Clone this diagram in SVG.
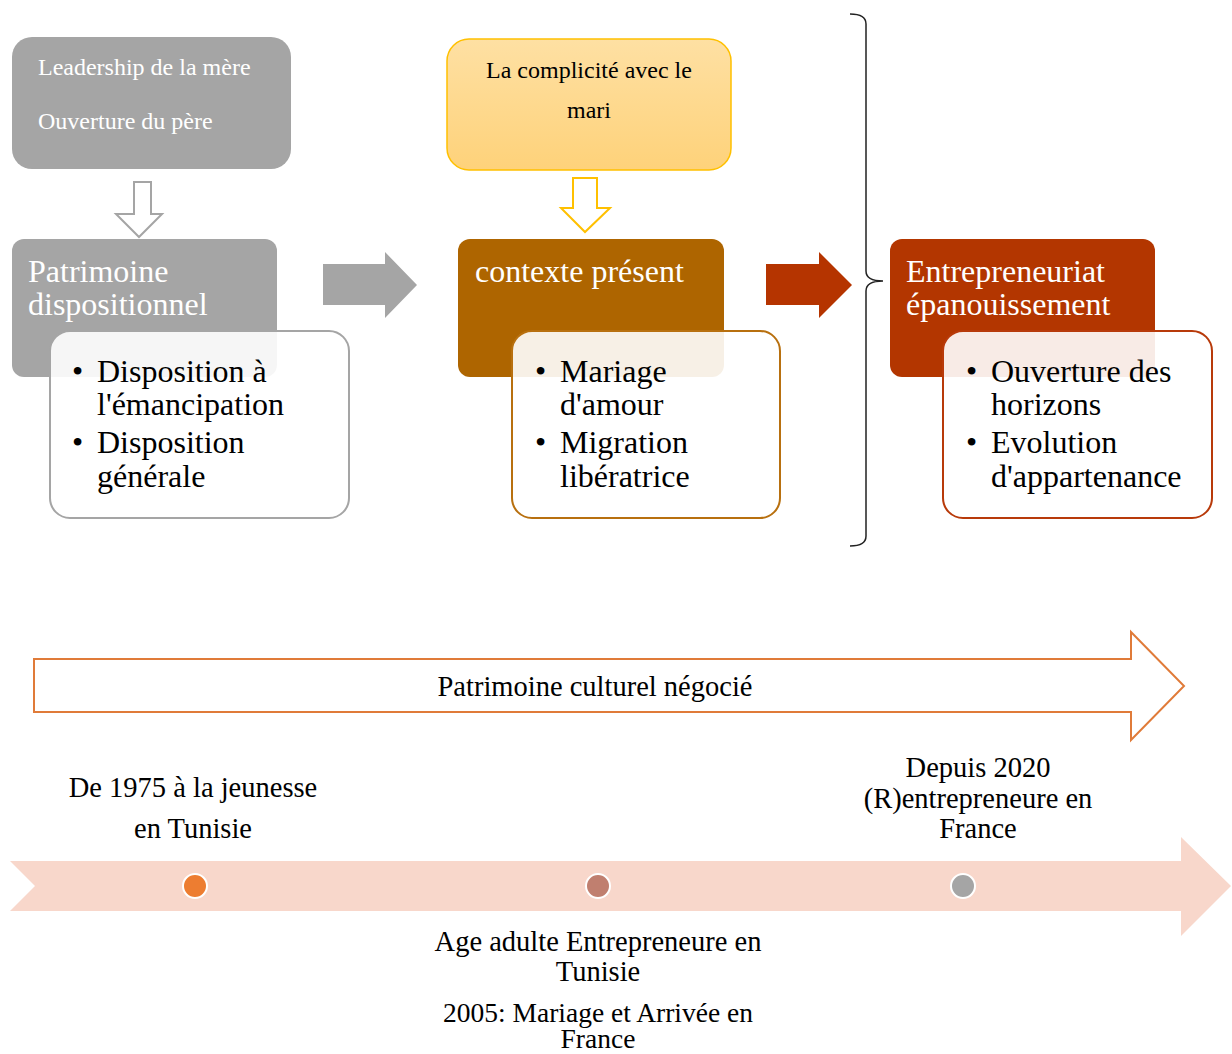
<svg xmlns="http://www.w3.org/2000/svg" width="1232" height="1054" viewBox="0 0 1232 1054">
<defs>
<linearGradient id="yg" x1="0" y1="0" x2="0" y2="1"><stop offset="0" stop-color="#fee0a3"/><stop offset="1" stop-color="#fed27a"/></linearGradient>
<style>
text{font-family:"Liberation Serif","Times New Roman",serif}
.sm{font-size:24px}
.ttl{font-size:32px;fill:#fff}
.bl{font-size:32px;fill:#000}
.tl{font-size:28.5px;fill:#000}
.tl2{font-size:27.5px;fill:#000}
.card{fill:#fff;fill-opacity:0.9;stroke-width:2}
</style>
</defs>
<rect width="1232" height="1054" fill="#fff"/>
<g id="connectors">
<path d="M134,182 H151 V214 H162 L139,237 L116,214 H134 Z" fill="#fff" stroke="#a5a5a5" stroke-width="2"/>
<path d="M573,178 H597 V208 H610 L585,232 L561,208 H573 Z" fill="#fff" stroke="#ffc000" stroke-width="2"/>
<path d="M323,264 H385 V252 L417,285 L385,318 V305 H323 Z" fill="#a5a5a5"/>
<path d="M766,264 H819 V252 L852,285 L819,318 V305 H766 Z" fill="#b53400"/>
<path d="M850,14 Q866,14 866,24 L866,271 Q866,281 883,281 Q866,281 866,291 L866,536 Q866,546 850,546" fill="none" stroke="#222" stroke-width="1.5"/>
</g>
<g id="n-parents">
<rect x="12" y="37" width="279" height="132" rx="20" fill="#a5a5a5"/>
<text class="sm" x="38" y="75" fill="#fff">Leadership de la mère</text>
<text class="sm" x="38" y="129" fill="#fff">Ouverture du père</text>
</g>
<g id="n-patrimoine">
<rect x="12" y="239" width="265" height="138" rx="12" fill="#a5a5a5"/>
<text class="ttl" x="28" y="282">Patrimoine</text>
<text class="ttl" x="28" y="315">dispositionnel</text>
</g>
<g id="n-patrimoine-list">
<rect class="card" x="50" y="331" width="299" height="187" rx="20" stroke="#a5a5a5"/>
<text class="bl" x="72" y="382">•</text><text class="bl" x="97" y="382">Disposition à</text>
<text class="bl" x="97" y="415">l'émancipation</text>
<text class="bl" x="72" y="453">•</text><text class="bl" x="97" y="453">Disposition</text>
<text class="bl" x="97" y="487">générale</text>
</g>
<g id="n-mari">
<rect x="447" y="39" width="284" height="131" rx="22" fill="url(#yg)" stroke="#ffc000" stroke-width="1.5"/>
<text class="sm" x="589" y="78" text-anchor="middle" fill="#000">La complicité avec le</text>
<text class="sm" x="589" y="118" text-anchor="middle" fill="#000">mari</text>
</g>
<g id="n-contexte">
<rect x="458" y="239" width="266" height="138" rx="12" fill="#ae6500"/>
<text class="ttl" x="475" y="282">contexte présent</text>
</g>
<g id="n-contexte-list">
<rect class="card" x="512" y="331" width="268" height="187" rx="20" stroke="#b8700f"/>
<text class="bl" x="535" y="382">•</text><text class="bl" x="560" y="382">Mariage</text>
<text class="bl" x="560" y="415">d'amour</text>
<text class="bl" x="535" y="453">•</text><text class="bl" x="560" y="453">Migration</text>
<text class="bl" x="560" y="487">libératrice</text>
</g>
<g id="n-entrepreneuriat">
<rect x="890" y="239" width="265" height="138" rx="12" fill="#b33600"/>
<text class="ttl" x="906" y="282">Entrepreneuriat</text>
<text class="ttl" x="906" y="315">épanouissement</text>
</g>
<g id="n-entrepreneuriat-list">
<rect class="card" x="943" y="331" width="269" height="187" rx="20" stroke="#b83a0a"/>
<text class="bl" x="966" y="382">•</text><text class="bl" x="991" y="382">Ouverture des</text>
<text class="bl" x="991" y="415">horizons</text>
<text class="bl" x="966" y="453">•</text><text class="bl" x="991" y="453">Evolution</text>
<text class="bl" x="991" y="487">d'appartenance</text>
</g>
<g id="n-culturel">
<path d="M34,659 H1131 V632 L1184,686 L1131,740 V712 H34 Z" fill="#fff" stroke="#e07b39" stroke-width="2"/>
<text class="tl" x="595" y="696" text-anchor="middle">Patrimoine culturel négocié</text>
</g>
<g id="n-timeline">
<path d="M10,861 H1181 V837 L1231,886 L1181,936 V911 H10 L35,886 Z" fill="#f8d7cb"/>
<circle cx="195" cy="886" r="12" fill="#ed7d31" stroke="#fff" stroke-width="2"/>
<circle cx="598" cy="886" r="12" fill="#c07f6f" stroke="#fff" stroke-width="2"/>
<circle cx="963" cy="886" r="12" fill="#a5a5a5" stroke="#fff" stroke-width="2"/>
</g>
<g id="n-t1">
<text class="tl" x="193" y="797" text-anchor="middle">De 1975 à la jeunesse</text>
<text class="tl" x="193" y="838" text-anchor="middle">en Tunisie</text>
</g>
<g id="n-t2">
<text class="tl" x="598" y="951" text-anchor="middle">Age adulte Entrepreneure en</text>
<text class="tl" x="598" y="981" text-anchor="middle">Tunisie</text>
<text class="tl2" x="598" y="1022" text-anchor="middle">2005: Mariage et Arrivée en</text>
<text class="tl2" x="598" y="1048" text-anchor="middle">France</text>
</g>
<g id="n-t3">
<text class="tl" x="978" y="777" text-anchor="middle">Depuis 2020</text>
<text class="tl" x="978" y="808" text-anchor="middle">(R)entrepreneure en</text>
<text class="tl" x="978" y="838" text-anchor="middle">France</text>
</g>
</svg>
